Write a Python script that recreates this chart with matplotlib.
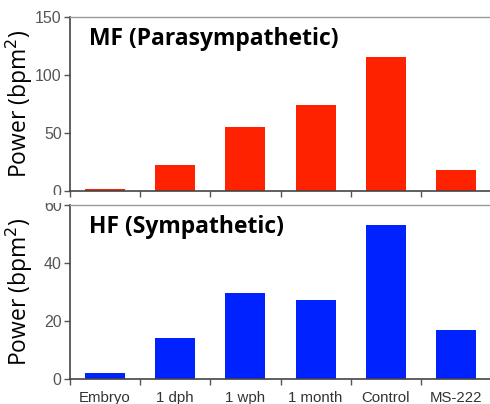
import matplotlib
matplotlib.use("Agg")
import matplotlib.pyplot as plt
import numpy as np
from matplotlib.patches import Rectangle

categories = ["Embryo", "1 dph", "1 wph", "1 month", "Control", "MS-222"]
mf_values = [1.5, 22.5, 55, 74.5, 115.5, 18.5]
hf_values = [2.1, 14.3, 29.8, 27.2, 53.2, 17.0]
mf_ticks = [0, 50, 100, 150]
hf_ticks = [0, 20, 40, 60]
mf_title = "MF (Parasympathetic)"
hf_title = "HF (Sympathetic)"
ylabel = "Power (bpm$^2$)"

W, H = 490, 404
fig = plt.figure(figsize=(W / 100, H / 100), dpi=100)

def fx(px):
    return px / W

def fy(py):
    return 1 - py / H

ax1 = fig.add_axes([fx(70), fy(191), fx(491 - 70), (191 - 17) / H])
ax2 = fig.add_axes([fx(70), fy(379), fx(491 - 70), (379 - 205) / H])

x = np.arange(len(categories))
tick_font = "Liberation Sans"
title_font = "Open Sans"

for ax, vals, ticks, color, title in [
    (ax1, mf_values, mf_ticks, "#FF2200", mf_title),
    (ax2, hf_values, hf_ticks, "#0022FF", hf_title),
]:
    ax.bar(x, vals, width=0.57, color=color)
    ax.set_xlim(-0.5, len(categories) - 0.5)
    ax.set_ylim(ticks[0], ticks[-1])
    ax.set_yticks(ticks)
    ax.set_yticklabels([str(t) for t in ticks], fontsize=11.5, color="#555555",
                       family=tick_font)
    ax.set_xticks(np.arange(len(categories) + 1) - 0.5)
    ax.set_xticklabels([])
    ax.tick_params(axis="both", direction="out", length=4, width=1, color="#555555")
    ax.tick_params(axis="y", pad=2)
    for s in ["left", "bottom"]:
        ax.spines[s].set_color("#444444")
        ax.spines[s].set_linewidth(1.2)
    for s in ["top", "right"]:
        ax.spines[s].set_color("#999999")
        ax.spines[s].set_linewidth(1.0)
    ax.text(0.045, 0.94, title, transform=ax.transAxes, ha="left", va="top",
            fontsize=16.5, fontweight="bold", family=title_font, color="black")
    ax.set_ylabel(ylabel, fontsize=16.5, family=title_font)

ax2.set_xticks(x, minor=True)
ax2.set_xticklabels(categories, minor=True, fontsize=10.8, color="#333333",
                    family=tick_font)
ax2.tick_params(axis="x", which="minor", length=0, pad=8.5)

ax1.yaxis.set_label_coords(-0.083, 0.5)
ax2.yaxis.set_label_coords(-0.083, 0.5)

# the top of the lower panel's highest tick label is hidden under the upper panel
fig.patches.append(Rectangle((fx(30), fy(203)), fx(38), 8 / H,
                             transform=fig.transFigure, facecolor="white",
                             edgecolor="none", zorder=10))

fig.savefig("out.png", dpi=100)
